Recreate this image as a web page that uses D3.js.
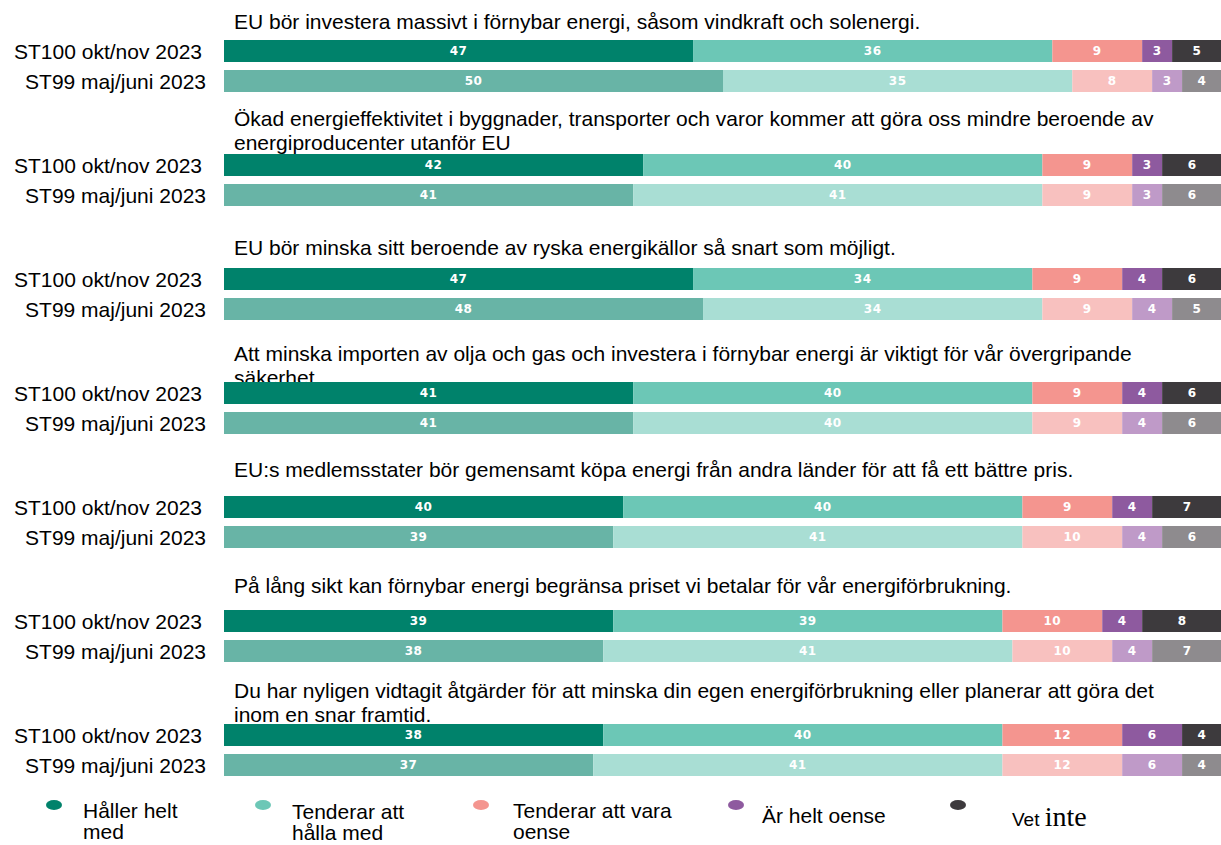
<!DOCTYPE html>
<html>
<head>
<meta charset="utf-8">
<script src="https://cdn.jsdelivr.net/npm/d3@7"></script>
<style>
  body { margin: 0; background: #fff; }
  svg { display: block; font-family: "Liberation Sans", Arial, sans-serif; }
</style>
</head>
<body>
<svg id="chart" width="1221" height="845"></svg>
<script>
// questions, already broken into lines as in the original slide
const questions = [
  ["EU bör investera massivt i förnybar energi, såsom vindkraft och solenergi."],
  ["Ökad energieffektivitet i byggnader, transporter och varor kommer att göra oss mindre beroende av",
   "energiproducenter utanför EU"],
  ["EU bör minska sitt beroende av ryska energikällor så snart som möjligt."],
  ["Att minska importen av olja och gas och investera i förnybar energi är viktigt för vår övergripande",
   "säkerhet."],
  ["EU:s medlemsstater bör gemensamt köpa energi från andra länder för att få ett bättre pris."],
  ["På lång sikt kan förnybar energi begränsa priset vi betalar för vår energiförbrukning."],
  ["Du har nyligen vidtagit åtgärder för att minska din egen energiförbrukning eller planerar att göra det",
   "inom en snar framtid."]
];

const waves = ["ST100 okt/nov 2023", "ST99 maj/juni 2023"];

const answers = ["Håller helt med", "Tenderar att hålla med", "Tenderar att vara oense", "Är helt oense", "Vet inte"];

// percentages per question, in answer order
const st100 = [
  [47, 36, 9, 3, 5],
  [42, 40, 9, 3, 6],
  [47, 34, 9, 4, 6],
  [41, 40, 9, 4, 6],
  [40, 40, 9, 4, 7],
  [39, 39, 10, 4, 8],
  [38, 40, 12, 6, 4]
];
const st99 = [
  [50, 35, 8, 3, 4],
  [41, 41, 9, 3, 6],
  [48, 34, 9, 4, 5],
  [41, 40, 9, 4, 6],
  [39, 41, 10, 4, 6],
  [38, 41, 10, 4, 7],
  [37, 41, 12, 6, 4]
];

// ---- layout / style ----
const colors = {
  st100: ["#00826b", "#6cc7b6", "#f4958f", "#8e5a9f", "#3d3a3d"],
  st99:  ["#68b4a6", "#a9ded4", "#f8c1bf", "#bf9ac8", "#8e8b8e"]
};
// baseline of the last title line, relative to the top of the first bar
const titleShift = [-11, -4, -13, 3, -19, -17, -2];
const legendPos = [
  { dot: 54,  text: 83,   y: 818 },
  { dot: 263, text: 292,  y: 819 },
  { dot: 481, text: 513,  y: 818 },
  { dot: 736, text: 762,  y: 823 },
  { dot: 958, text: 1012, y: 826 }
];

const barH = 22, barGap = 30;

const svg = d3.select("#chart");

const x = d3.scaleLinear().domain([0, 100]).range([224, 1222]);
const y = d3.scaleBand()
  .domain(d3.range(questions.length))
  .range([40, 40 + 114 * questions.length])
  .paddingInner(0).paddingOuter(0);

const rows = questions.map((q, i) => ({
  i,
  lines: q,
  series: [
    { wave: 0, values: st100[i], colors: colors.st100 },
    { wave: 1, values: st99[i], colors: colors.st99 }
  ]
}));

const groups = svg.selectAll(".question")
  .data(rows)
  .join("g")
  .attr("class", "question")
  .attr("transform", d => `translate(0,${y(d.i)})`);

// titles
groups.append("text")
  .attr("class", "title")
  .attr("font-size", 21)
  .attr("fill", "#000")
  .selectAll("tspan")
  .data(d => d.lines.map((l, k) => ({ l, k, n: d.lines.length, shift: titleShift[d.i] })))
  .join("tspan")
  .attr("x", 234)
  .attr("y", d => d.shift - (d.n - 1 - d.k) * 24)
  .text(d => d.l);

// bars
const barGs = groups.selectAll(".wave")
  .data(d => d.series)
  .join("g")
  .attr("class", "wave")
  .attr("transform", d => `translate(0,${d.wave * barGap})`);

barGs.append("text")
  .attr("x", d => d.wave === 0 ? 202 : 206)
  .attr("y", barH / 2)
  .attr("dy", "0.36em")
  .attr("text-anchor", "end")
  .attr("font-size", 21)
  .attr("fill", "#000")
  .text(d => waves[d.wave]);

const segs = barGs.selectAll(".seg")
  .data(d => {
    let acc = 0;
    return d.values.map((v, k) => {
      const s = { start: acc, v, color: d.colors[k] };
      acc += v;
      return s;
    });
  })
  .join("g")
  .attr("class", "seg");

segs.append("rect")
  .attr("x", d => x(d.start))
  .attr("y", 0)
  .attr("width", d => x(d.start + d.v) - x(d.start))
  .attr("height", barH)
  .attr("fill", d => d.color);

segs.append("text")
  .attr("x", d => (x(d.start) + x(d.start + d.v)) / 2)
  .attr("y", barH / 2)
  .attr("dy", "0.36em")
  .attr("text-anchor", "middle")
  .attr("font-family", "'DejaVu Sans', sans-serif")
  .attr("font-weight", "bold")
  .attr("font-size", 12)
  .attr("letter-spacing", 0.5)
  .attr("fill", "#fff")
  .text(d => d.v);

// legend
const legend = svg.append("g").attr("class", "legend");
const items = legend.selectAll("g")
  .data(answers.map((a, k) => ({ a, k, pos: legendPos[k] })))
  .join("g");

items.append("ellipse")
  .attr("cx", d => d.pos.dot)
  .attr("cy", 805)
  .attr("rx", 8)
  .attr("ry", 5)
  .attr("fill", d => colors.st100[d.k]);

const legendLines = [
  ["Håller helt", "med"],
  ["Tenderar att", "hålla med"],
  ["Tenderar att vara", "oense"],
  ["Är helt oense"]
];

items.filter(d => d.k < 4).append("text")
  .attr("font-size", 21)
  .attr("fill", "#000")
  .selectAll("tspan")
  .data(d => legendLines[d.k].map((l, j) => ({ l, j, pos: d.pos })))
  .join("tspan")
  .attr("x", d => d.pos.text)
  .attr("y", d => d.pos.y + d.j * 21)
  .text(d => d.l);

// "Vet inte" is set in two different fonts in the original
const vet = items.filter(d => d.k === 4).append("text")
  .attr("x", d => d.pos.text)
  .attr("y", d => d.pos.y)
  .attr("fill", "#000");
vet.append("tspan").attr("font-size", 19).text(answers[4].split(" ")[0] + " ");
vet.append("tspan")
  .attr("font-family", "'Liberation Serif', 'Times New Roman', serif")
  .attr("font-size", 28)
  .text(answers[4].split(" ")[1]);
</script>
</body>
</html>
